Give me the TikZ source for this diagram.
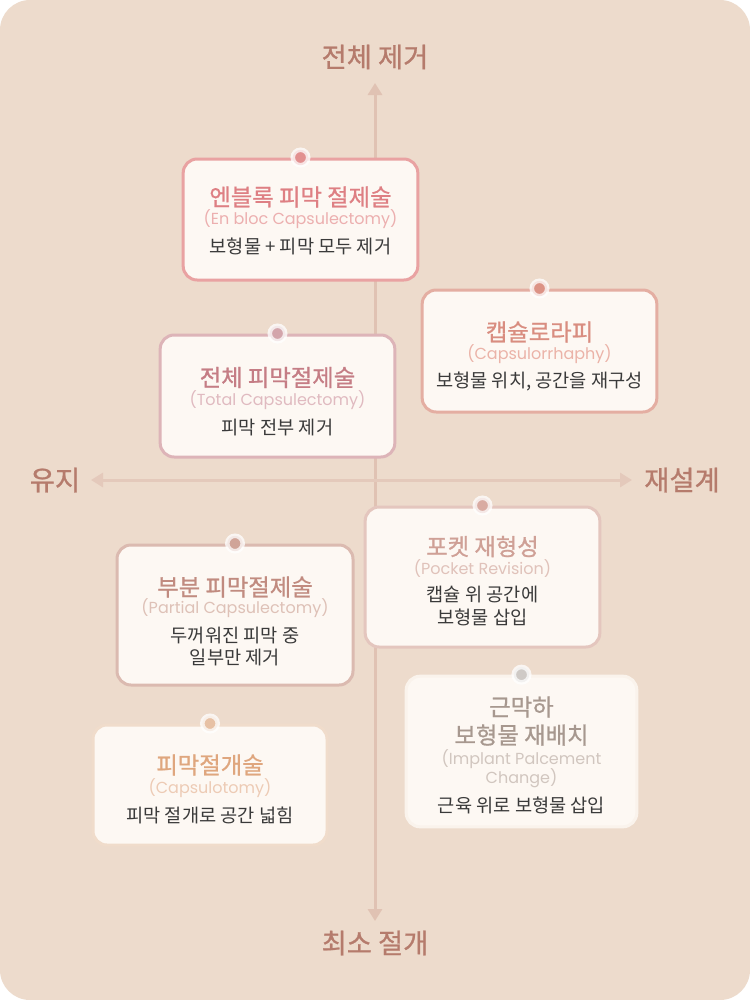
\documentclass[tikz,border=0pt]{standalone}
\usepackage{fontspec}
\setmainfont{Noto Sans CJK KR}
\newfontfamily\kr{Noto Sans CJK KR}
\newfontfamily\krm{Noto Sans CJK KR}[FakeBold=0.9]
\newfontfamily\lat{Poppins}
\usetikzlibrary{arrows.meta}
\definecolor{bg}{HTML}{EDDBCC}
\definecolor{cardfill}{HTML}{FDF8F3}
\definecolor{axisv}{HTML}{E0C2B3}
\definecolor{axish}{HTML}{E4C9BB}
\definecolor{axlabel}{HTML}{B57B6C}
\definecolor{desc}{HTML}{3A3A3A}
% box colours
\definecolor{aT}{HTML}{DE7F83}\definecolor{aS}{HTML}{ECAFAF}\definecolor{aB}{HTML}{E9A2A2}\definecolor{aD}{HTML}{E29090}
\definecolor{bT}{HTML}{D98D80}\definecolor{bS}{HTML}{EBB3A8}\definecolor{bB}{HTML}{E4AEA2}\definecolor{bD}{HTML}{DC9386}
\definecolor{cT}{HTML}{C57D85}\definecolor{cS}{HTML}{E0BAC0}\definecolor{cB}{HTML}{DDB4B8}\definecolor{cD}{HTML}{D3A5AB}
\definecolor{dT}{HTML}{CFA096}\definecolor{dS}{HTML}{E0C2BA}\definecolor{dB}{HTML}{E4C6BE}\definecolor{dD}{HTML}{D9ABA2}
\definecolor{eT}{HTML}{C18B80}\definecolor{eS}{HTML}{DEC1B7}\definecolor{eB}{HTML}{DBBAB0}\definecolor{eD}{HTML}{D0A498}
\definecolor{fT}{HTML}{A7988F}\definecolor{fS}{HTML}{D1C6BF}\definecolor{fB}{HTML}{FAF3EC}\definecolor{fD}{HTML}{CFCAC6}
\definecolor{gT}{HTML}{DFA67E}\definecolor{gS}{HTML}{EDCBB5}\definecolor{gB}{HTML}{F0DCCB}\definecolor{gD}{HTML}{E7C1A5}
\tikzset{
  card/.style={draw=#1, line width=2.25pt, rounded corners=10.5pt, fill=cardfill, minimum width=176pt, inner sep=0pt},
  pin/.style={circle, fill=#1, draw=white, draw opacity=0.75, line width=3.4pt, minimum size=11.6pt, inner sep=0pt},
  ttl/.style={text=#1, font=\krm\fontsize{17.5}{20}\selectfont, inner sep=0pt},
  sub/.style={text=#1, font=\lat\fontsize{12}{14}\selectfont, inner sep=0pt},
  dsc/.style={text=desc, font=\kr\fontsize{14}{16}\selectfont, inner sep=0pt},
  axlab/.style={text=axlabel, font=\krm\fontsize{20.5}{24}\selectfont, inner sep=0pt},
  axisline/.style={line width=2.25pt, draw=#1, {Triangle[width=10.5pt,length=9pt]}-{Triangle[width=10.5pt,length=9pt]}}
}
\begin{document}
\begin{tikzpicture}[x=0.75pt,y=-0.75pt]
\fill[white] (0,0) rectangle (750,1000);
\useasboundingbox (0,0) rectangle (750,1000);
\fill[bg, rounded corners=22.5pt] (0,0) rectangle (750,1000);
% axes
\coordinate (atop) at (375,83);
\coordinate (abot) at (375,921);
\coordinate (aleft) at (91,480);
\coordinate (aright) at (632,480);
\draw[axisline=axisv] (abot) -- (atop);
\draw[axisline=axish] (aleft) -- (aright);
\node[axlab] (ltop) at (375,57) {전체 제거};
\node[axlab] (lbot) at (375,943) {최소 절개};
\node[axlab] (lleft) at (55,480) {유지};
\node[axlab] (lright) at (682,480) {재설계};
% box 1
\node[card=aB, minimum height=90.75pt] (b1) at (300.5,219.5) {};
\node[pin=aD] (p1) at (b1.north) {};
\node[ttl=aT] (t1) at (300.5,197) {엔블록 피막 절제술};
\node[sub=aS] (s1) at (300.5,219) {(En bloc Capsulectomy)};
\node[dsc] (d1) at (300.5,246.5) {보형물 + 피막 모두 제거};
% box 2
\node[card=bB, minimum height=91.5pt] (b2) at (539.5,351) {};
\node[pin=bD] (p2) at (b2.north) {};
\node[ttl=bT] (t2) at (539.5,332) {캡슐로라피};
\node[sub=bS] (s2) at (539.5,354) {(Capsulorrhaphy)};
\node[dsc] (d2) at (539.5,381.5) {보형물 위치, 공간을 재구성};
% box 3
\node[card=cB, minimum height=91.5pt] (b3) at (277.5,396) {};
\node[pin=cD] (p3) at (b3.north) {};
\node[ttl=cT] (t3) at (277.5,377.5) {전체 피막절제술};
\node[sub=cS] (s3) at (277.5,400) {(Total Capsulectomy)};
\node[dsc] (d3) at (277.5,427.5) {피막 전부 제거};
% box 4
\node[card=dB, minimum height=105pt] (b4) at (482.5,577) {};
\node[pin=dD] (p4) at (b4.north) {};
\node[ttl=dT] (t4) at (482.5,546.5) {포켓 재형성};
\node[sub=dS] (s4) at (482.5,568.5) {(Pocket Revision)};
\node[dsc] (d4a) at (482.5,595) {캡슐 위 공간에};
\node[dsc] (d4b) at (482.5,617) {보형물 삽입};
% box 5
\node[card=eB, minimum height=105pt, minimum width=177pt] (b5) at (235,615) {};
\node[pin=eD] (p5) at (b5.north) {};
\node[ttl=eT] (t5) at (235,587) {부분 피막절제술};
\node[sub=eS] (s5) at (235,608.5) {(Partial Capsulectomy)};
\node[dsc] (d5a) at (235,636) {두꺼워진 피막 중};
\node[dsc] (d5b) at (235,657.5) {일부만 제거};
% box 6
\node[card=fB, minimum height=113pt, minimum width=173pt] (b6) at (521.5,751.5) {};
\node[pin=fD] (p6) at (b6.north) {};
\node[ttl=fT] (t6a) at (521.5,707) {근막하};
\node[ttl=fT] (t6b) at (521.5,735) {보형물 재배치};
\node[sub=fS] (s6a) at (521.5,759.5) {(Implant Palcement};
\node[sub=fS] (s6b) at (521.5,778) {Change)};
\node[dsc] (d6) at (521.5,805) {근육 위로 보형물 삽입};
% box 7
\node[card=gB, minimum height=90pt, minimum width=175.5pt] (b7) at (210,785) {};
\node[pin=gD] (p7) at (b7.north) {};
\node[ttl=gT] (t7) at (210,765) {피막절개술};
\node[sub=gS] (s7) at (210,788.5) {(Capsulotomy)};
\node[dsc] (d7) at (210,815) {피막 절개로 공간 넓힘};
\end{tikzpicture}
\end{document}
